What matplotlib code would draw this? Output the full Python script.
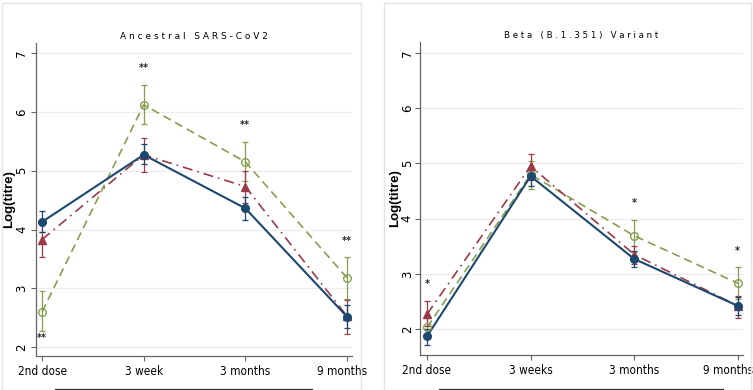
import numpy as np
import matplotlib
matplotlib.use("Agg")
import matplotlib.pyplot as plt
from matplotlib import font_manager
from matplotlib.patches import Rectangle
from matplotlib.lines import Line2D
from matplotlib.transforms import ScaledTranslation

# Data (log titre, mean and CI bounds)
anc_labels = ["2nd dose", "3 week", "3 months", "9 months"]
beta_labels = ["2nd dose", "3 weeks", "3 months", "9 months"]

anc_blue = [4.13, 5.27, 4.36, 2.52]
anc_blue_lo = [3.95, 5.12, 4.17, 2.33]
anc_blue_hi = [4.32, 5.45, 4.55, 2.72]
anc_red = [3.83, 5.27, 4.73, 2.53]
anc_red_lo = [3.54, 4.97, 4.45, 2.23]
anc_red_hi = [3.95, 5.55, 5.00, 2.80]
anc_green = [2.60, 6.12, 5.15, 3.18]
anc_green_lo = [2.27, 5.80, 4.82, 2.82]
anc_green_hi = [2.95, 6.45, 5.49, 3.53]
anc_stars = ["**", "**", "**", "**"]
anc_star_y = [2.15, 6.74, 5.78, 3.81]

beta_blue = [1.87, 4.77, 3.27, 2.42]
beta_blue_lo = [1.72, 4.60, 3.12, 2.25]
beta_blue_hi = [2.00, 4.92, 3.42, 2.58]
beta_red = [2.27, 4.95, 3.35, 2.42]
beta_red_lo = [2.05, 4.70, 3.18, 2.20]
beta_red_hi = [2.50, 5.18, 3.50, 2.60]
beta_green = [2.03, 4.80, 3.69, 2.83]
beta_green_lo = [1.85, 4.53, 3.40, 2.55]
beta_green_hi = [2.20, 5.05, 3.97, 3.12]
beta_stars = ["*", "", "*", "*"]
beta_star_y = [2.82, 0, 4.28, 3.42]

BLUE = "#1c4870"
RED = "#9a3a48"
GREEN = "#879e52"

# condensed font for the x labels if one is installed
xfont = {"family": "Liberation Sans", "size": 7.5}
cond = font_manager.findfont(font_manager.FontProperties(family="DejaVu Sans", stretch="condensed"))
if "Condensed" in cond:
    xfont = {"fname": cond, "size": 8.5}
xprops = font_manager.FontProperties(**xfont)

W, H = 753, 390
fig = plt.figure(figsize=(W / 100, H / 100), dpi=100)
fig.patch.set_facecolor("white")

# light panel frames
for x0, x1 in [(2, 361), (384, 751)]:
    fig.patches.append(Rectangle((x0 / W, 0), (x1 - x0) / W, 1 - 3 / H,
                                 transform=fig.transFigure, fill=False,
                                 edgecolor="#e4e4e4", linewidth=1.0))


def panel(rect, labels, title, tsize, ylim, xlim, series, stars, star_y, ypad, nudge):
    ax = fig.add_axes(rect)
    x = np.arange(len(labels))
    for y, lo, hi, col, ls, mk, mfc, lw in series:
        ax.plot(x, y, color=col, linestyle=ls, linewidth=lw, zorder=3)
        ax.errorbar(x, y, yerr=[np.array(y) - np.array(lo), np.array(hi) - np.array(y)],
                    fmt="none", ecolor=col, elinewidth=0.9, capsize=2.5,
                    capthick=0.9, zorder=4)
        ax.plot(x, y, linestyle="none", marker=mk, markersize=5.5,
                markerfacecolor=mfc, markeredgecolor=col, markeredgewidth=1.0,
                zorder=5)
    for xi, s, sy in zip(x, stars, star_y):
        if s:
            ax.text(xi, sy, s, ha="center", va="center", fontsize=7,
                    fontweight="bold", color="#222222")
    ax.set_xlim(*xlim)
    ax.set_ylim(*ylim)
    ax.set_yticks([2, 3, 4, 5, 6, 7])
    ax.set_yticklabels(["2", "3", "4", "5", "6", "7"], rotation=90, va="center",
                       fontsize=8.5)
    ax.set_xticks(x)
    ax.set_xticklabels(labels, fontproperties=xprops)
    ax.grid(axis="y", color="#ececec", linewidth=0.8)
    ax.set_axisbelow(True)
    for s in ["top", "right"]:
        ax.spines[s].set_visible(False)
    for s in ["left", "bottom"]:
        ax.spines[s].set_color("#666666")
        ax.spines[s].set_linewidth(0.9)
    ax.tick_params(axis="x", length=3.5, color="#666666", pad=3)
    ax.tick_params(axis="y", length=3.5, color="#666666", pad=ypad)
    ax.set_title(title, fontsize=tsize, pad=3)
    # last label sits right at the panel edge, nudge it in a little
    last = ax.get_xticklabels()[-1]
    last.set_transform(last.get_transform() + ScaledTranslation(-nudge / 100, 0, fig.dpi_scale_trans))
    return ax


ax1 = panel([36 / W, 1 - 356 / H, (352 - 36) / W, (356 - 43) / H],
            anc_labels, "A n c e s t r a l   S A R S - C o V 2", 6.5,
            (1.85, 7.17), (-0.06, 3.05),
            [(anc_green, anc_green_lo, anc_green_hi, GREEN, (0, (5, 3)), "o", "none", 1.2),
             (anc_red, anc_red_lo, anc_red_hi, RED, (0, (6, 3, 1, 3)), "^", RED, 1.2),
             (anc_blue, anc_blue_lo, anc_blue_hi, BLUE, "-", "o", BLUE, 1.5)],
            anc_stars, anc_star_y, 2, 5)
ax1.set_ylabel("Log(titre)", fontsize=9.5, fontweight="bold", family="Liberation Sans")
ax1.yaxis.set_label_coords(-0.066, 0.5)

ax2 = panel([420 / W, 1 - 355 / H, (743 - 420) / W, (355 - 42) / H],
            beta_labels, "B e t a   ( B . 1 . 3 5 1 )   V a r i a n t", 6.2,
            (1.53, 7.2), (-0.068, 3.05),
            [(beta_green, beta_green_lo, beta_green_hi, GREEN, (0, (5, 3)), "o", "none", 1.2),
             (beta_red, beta_red_lo, beta_red_hi, RED, (0, (6, 3, 1, 3)), "^", RED, 1.2),
             (beta_blue, beta_blue_lo, beta_blue_hi, BLUE, "-", "o", BLUE, 1.5)],
            beta_stars, beta_star_y, 1, 10)
ax2.set_ylabel("Log(titre)", fontsize=9.5, fontweight="bold", family="Liberation Sans")
ax2.yaxis.set_label_coords(-0.057, 0.5)

# cropped legend frame lines at the bottom
for x0, x1 in [(55, 312), (439, 723)]:
    fig.add_artist(Line2D([x0 / W, x1 / W], [1 - 389 / H] * 2,
                          transform=fig.transFigure, color="#333333", linewidth=0.9))

fig.savefig("out.png", dpi=100)
